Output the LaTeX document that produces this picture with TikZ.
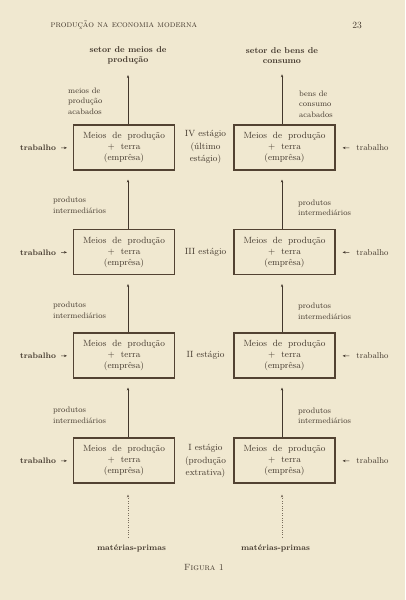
\documentclass[tikz,border=0pt]{standalone}
\usepackage{tikz}
\usetikzlibrary{arrows.meta, positioning, calc}
\definecolor{paperCream}{RGB}{240, 232, 208}
\definecolor{inkBrown}{RGB}{66, 55, 44}
\definecolor{frameBrown}{RGB}{82, 66, 50}
\definecolor{dotGray}{RGB}{120, 108, 92}
\newcommand{\firmspacing}{\spaceskip=6pt plus 2pt\relax}

\begin{document}
\begin{tikzpicture}[
    x=1pt, y=-1pt,
    firm/.style={rectangle, draw=frameBrown, line width=1.1pt, minimum width=101pt, minimum height=45pt, inner sep=0pt, align=center, text=inkBrown, font={\fontsize{9}{11}\selectfont\firmspacing}},
    stage/.style={align=center, text=inkBrown, font=\fontsize{9}{12.5}\selectfont},
    note/.style={align=left, text=inkBrown, inner sep=0pt, font=\fontsize{8}{10.5}\selectfont},
    sector/.style={align=center, text=inkBrown, font=\bfseries\fontsize{8.5}{10.5}\selectfont},
    labor/.style={text=inkBrown, inner sep=1pt, font=\bfseries\fontsize{8}{10}\selectfont},
    flow/.style={draw=inkBrown, line width=0.5pt, -{Stealth[length=3pt, width=2.4pt]}},
    rawflow/.style={flow, draw=dotGray, line width=0.4pt, dotted}
]
    % Paper (fixes the page size)
    \fill[paperCream] (0,0) rectangle (405,600);

    % Page header
    \node[anchor=west, text=inkBrown, font=\fontsize{9}{10}\selectfont] (header) at (47,25) {\textsc{produção na economia moderna}};
    \node[text=inkBrown, font=\fontsize{9.5}{10}\selectfont] (pagenum) at (357,25) {23};

    % Sectors (top)
    \node[sector] (setl) at (128,55.5) {setor de meios de\\produção};
    \node[sector] (setr) at (282,55.5) {setor de bens de\\consumo};

    % Firms, from stage IV down to stage I
    \node[firm] (firm4l) at (124,147.5) {Meios de produção\\$+$ terra\\(emprêsa)};
    \node[firm] (firm4r) at (284.5,147.5) {Meios de produção\\$+$ terra\\(emprêsa)};
    \node[firm] (firm3l) at (124,252) {Meios de produção\\$+$ terra\\(emprêsa)};
    \node[firm] (firm3r) at (284.5,252) {Meios de produção\\$+$ terra\\(emprêsa)};
    \node[firm] (firm2l) at (124,355.5) {Meios de produção\\$+$ terra\\(emprêsa)};
    \node[firm] (firm2r) at (284.5,355.5) {Meios de produção\\$+$ terra\\(emprêsa)};
    \node[firm] (firm1l) at (124,460.5) {Meios de produção\\$+$ terra\\(emprêsa)};
    \node[firm] (firm1r) at (284.5,460.5) {Meios de produção\\$+$ terra\\(emprêsa)};

    % Stage labels (between the two columns)
    \node[stage] (stage4) at (205.5,147) {IV estágio\\(último\\estágio)};
    \node[stage] (stage3) at (205.5,252) {III estágio};
    \node[stage] (stage2) at (205.5,355) {II estágio};
    \node[stage] (stage1) at (205.5,461) {I estágio\\(produção\\extrativa)};

    % Labour, left and right
    \node[labor] (lab4l) at (38,148) {trabalho};
    \node[labor] (lab3l) at (38,252.5) {trabalho};
    \node[labor] (lab2l) at (38,356) {trabalho};
    \node[labor] (lab1l) at (38,461) {trabalho};
    \node[labor, font=\fontsize{8.5}{10}\selectfont] (lab4r) at (372.5,148) {trabalho};
    \node[labor, font=\fontsize{8.5}{10}\selectfont] (lab3r) at (372.5,252.5) {trabalho};
    \node[labor, font=\fontsize{8.5}{10}\selectfont] (lab2r) at (372.5,356) {trabalho};
    \node[labor, font=\fontsize{8.5}{10}\selectfont] (lab1r) at (372.5,461) {trabalho};

    % Goods between the stages
    \node[note, anchor=west] (donel) at (68,101) {meios de\\produção\\acabados};
    \node[note, anchor=west] (doner) at (299,104) {bens de\\consumo\\acabados};
    \node[note, anchor=west] (mid3l) at (53,205.5) {produtos\\intermediários};
    \node[note, anchor=west] (mid3r) at (298,208) {produtos\\intermediários};
    \node[note, anchor=west] (mid2l) at (53,310.5) {produtos\\intermediários};
    \node[note, anchor=west] (mid2r) at (298,311.5) {produtos\\intermediários};
    \node[note, anchor=west] (mid1l) at (53,415.5) {produtos\\intermediários};
    \node[note, anchor=west] (mid1r) at (298,416) {produtos\\intermediários};

    % Raw materials (bottom) and caption
    \node[labor] (rawl) at (131.5,548) {matérias-primas};
    \node[labor] (rawr) at (275.5,548) {matérias-primas};
    \node[text=inkBrown, font=\fontsize{9}{10}\selectfont] (caption) at (204,567) {\textsc{Figura 1}};

    % Flows up the left column
    \draw[rawflow, shorten <=6pt, shorten >=11pt] (rawl.north -| setl) -- (firm1l.south -| setl);
    \draw[flow, shorten >=9pt] (firm1l.north -| setl) -- (firm2l.south -| setl);
    \draw[flow, shorten >=9pt] (firm2l.north -| setl) -- (firm3l.south -| setl);
    \draw[flow, shorten >=9pt] (firm3l.north -| setl) -- (firm4l.south -| setl);
    \draw[flow, shorten >=7pt] (firm4l.north -| setl) -- (setl);

    % Flows up the right column
    \draw[rawflow, shorten <=6pt, shorten >=11pt] (rawr.north -| setr) -- (firm1r.south -| setr);
    \draw[flow, shorten >=9pt] (firm1r.north -| setr) -- (firm2r.south -| setr);
    \draw[flow, shorten >=9pt] (firm2r.north -| setr) -- (firm3r.south -| setr);
    \draw[flow, shorten >=9pt] (firm3r.north -| setr) -- (firm4r.south -| setr);
    \draw[flow, shorten >=7pt] (firm4r.north -| setr) -- (setr);

    % Labour into the firms
    \draw[flow, shorten <=4pt, shorten >=6pt] (lab4l) -- (firm4l);
    \draw[flow, shorten <=4pt, shorten >=6pt] (lab3l) -- (firm3l);
    \draw[flow, shorten <=4pt, shorten >=6pt] (lab2l) -- (firm2l);
    \draw[flow, shorten <=4pt, shorten >=6pt] (lab1l) -- (firm1l);
    \draw[flow, shorten <=6pt, shorten >=7pt] (lab4r) -- (firm4r);
    \draw[flow, shorten <=6pt, shorten >=7pt] (lab3r) -- (firm3r);
    \draw[flow, shorten <=6pt, shorten >=7pt] (lab2r) -- (firm2r);
    \draw[flow, shorten <=6pt, shorten >=7pt] (lab1r) -- (firm1r);
\end{tikzpicture}
\end{document}
